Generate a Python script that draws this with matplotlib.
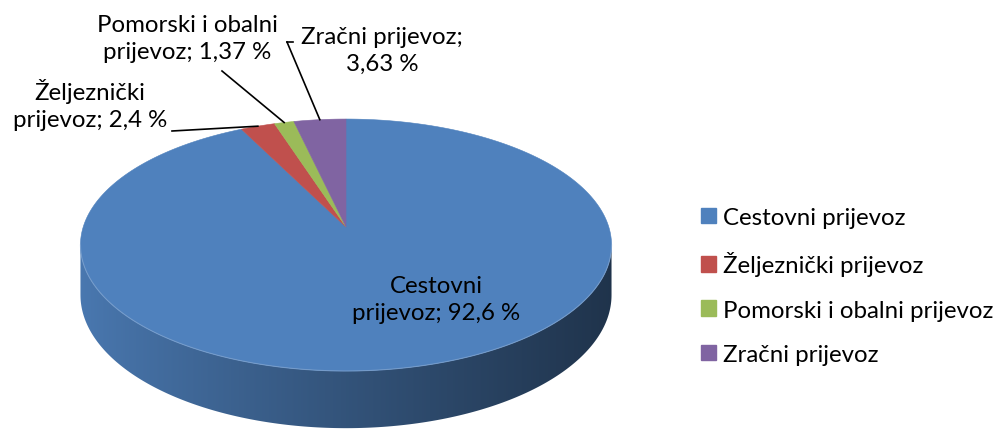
import numpy as np
import matplotlib
matplotlib.use("Agg")
import matplotlib.pyplot as plt
from matplotlib.patches import Polygon, Patch

# data
categories = ["Cestovni prijevoz", "Željeznički prijevoz",
              "Pomorski i obalni prijevoz", "Zračni prijevoz"]
shares = [92.6, 2.4, 1.37, 3.63]
label_texts = ["Cestovni\nprijevoz; 92,6 %", "Željeznički\nprijevoz; 2,4 %",
               "Pomorski i obalni\nprijevoz; 1,37 %", "Zračni prijevoz;\n3,63 %"]
colors = ["#4f81bd", "#c0504d", "#9bbb59", "#8064a2"]

plt.rcParams['font.family'] = ['Lato', 'DejaVu Sans']
FS = 17.3

# 3d pie geometry (pixels, y down)
cx, cy = 346, 228
rx, ry = 262.8, 123.4
k = 0.143          # perspective
depth0 = 49.0


def proj(theta, z=0.0):
    # theta in degrees, clockwise from the far (top) point
    t = np.radians(theta)
    p = 1 + k * np.cos(t)
    x = cx + rx * np.sin(t) / p
    y = cy - ry * np.cos(t) / p + z * depth0 / p
    return x, y


fig = plt.figure(figsize=(10.05, 4.31), dpi=100)
ax = fig.add_axes([0, 0, 1, 1])
ax.set_xlim(0, 1005)
ax.set_ylim(431, 0)
ax.axis('off')

bounds = np.concatenate([[0], np.cumsum(shares) / sum(shares) * 360])

# visible front side from cos(theta) = -k on both sides
th_r = np.degrees(np.arccos(-k))
th_l = 360 - th_r
x_left, _ = proj(th_l)
x_right, _ = proj(th_r)

# horizontal shading ramp for the side wall
ramp = np.linspace(0, 1, 400)
shade = 0.93 - 0.53 * ramp ** 0.9

for i, col in enumerate(colors):
    a0, a1 = max(bounds[i], th_r), min(bounds[i + 1], th_l)
    if a1 <= a0:
        continue
    base = np.array(matplotlib.colors.to_rgb(col))
    ths = np.linspace(a0, a1, 200)
    xt, yt = proj(ths)
    xb, yb = proj(ths[::-1], 1)
    side = Polygon(list(zip(xt, yt)) + list(zip(xb, yb)), closed=True,
                   fc='none', ec='none')
    ax.add_patch(side)
    img = (shade[None, :, None] * base[None, None, :]).repeat(2, axis=0)
    im = ax.imshow(img, extent=(x_left, x_right, 431, 0), aspect='auto',
                   interpolation='bilinear', zorder=1)
    im.set_clip_path(side)

# top faces
for i, col in enumerate(colors):
    ths = np.linspace(bounds[i], bounds[i + 1], max(3, int((bounds[i + 1] - bounds[i]) * 2)))
    xs, ys = proj(ths)
    pts = [(cx, cy)] + list(zip(xs, ys))
    ax.add_patch(Polygon(pts, closed=True, fc=col, ec=col, lw=0.4, zorder=2))

# light rim along front edge
ths = np.linspace(th_r, th_l, 200)
xs, ys = proj(ths)
ax.plot(xs, ys, color="#7fa3cf", lw=0.8, alpha=0.7, zorder=3)

# data labels
ax.text(436, 300, label_texts[0], ha='center', va='center', fontsize=FS,
        linespacing=1.35, zorder=4)
lab_pos = {1: (90, 105), 2: (187, 39), 3: (382, 51)}
lead_end = {1: (172, 132), 2: (222, 72), 3: (287, 43)}
for i in (1, 2, 3):
    ax.text(*lab_pos[i], label_texts[i], ha='center', va='center',
            fontsize=FS, linespacing=1.35, zorder=4)
    mid = (bounds[i] + bounds[i + 1]) / 2
    mx, my = proj(mid)
    ex, ey = lead_end[i]
    ax.plot([mx, ex], [my, ey], color='black', lw=1.2, zorder=4)
    if i == 3:
        ax.plot([ex, ex + 6], [ey, ey], color='black', lw=1.2, zorder=4)

handles = [Patch(fc=c, ec=c) for c in colors]
fig.legend(handles, categories, loc='upper left',
           bbox_to_anchor=(689 / 1005, 1 - 196 / 431), frameon=False,
           fontsize=FS, handlelength=0.62, handleheight=0.62,
           handletextpad=0.3, labelspacing=0.97, borderpad=0)

fig.savefig("out.png", dpi=100)
